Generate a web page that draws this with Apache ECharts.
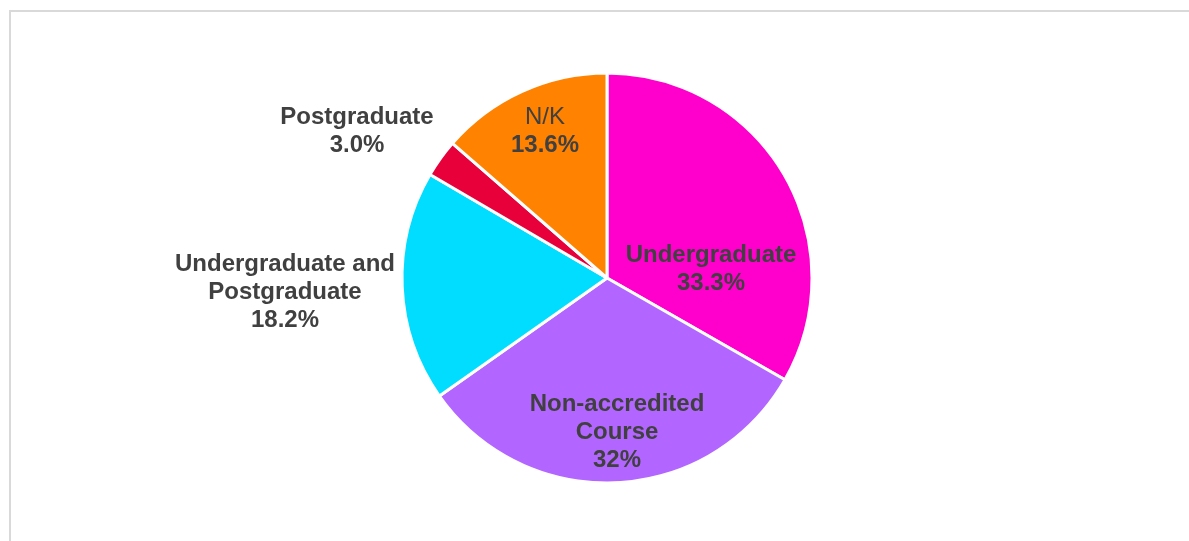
<!DOCTYPE html>
<html>
<head>
<meta charset="utf-8">
<script src="https://cdn.jsdelivr.net/npm/echarts@6/dist/echarts.min.js"></script>
<style>
html,body{margin:0;padding:0;background:#fff;}
#frame{position:absolute;left:9px;top:10px;width:1200px;height:600px;border-left:2px solid #D9D9D9;border-top:2px solid #D9D9D9;box-sizing:border-box;}
#chart{position:absolute;left:0;top:0;width:1189px;height:541px;}
</style>
</head>
<body>
<div id="frame"></div>
<div id="chart"></div>
<script>
// Data
const categories = ['Undergraduate', 'Non-accredited Course', 'Undergraduate and Postgraduate', 'Postgraduate', 'N/K'];
const labelNames = ['Undergraduate', 'Non-accredited\nCourse', 'Undergraduate and\nPostgraduate', 'Postgraduate', 'N/K'];
const values = [33.3, 32, 18.2, 3.0, 13.6];
const valueLabels = ['33.3%', '32%', '18.2%', '3.0%', '13.6%'];
const colors = ['#FF00CC', '#B266FF', '#00DDFF', '#E8003A', '#FF8200'];
const nameBold = [true, true, true, true, false];
// label anchor positions (px)
const labelPos = [[711, 269], [617, 432], [285, 292], [357, 131], [545, 131]];

const FONT = "'Liberation Sans', Arial, sans-serif";
const chart = echarts.init(document.getElementById('chart'));
const data = categories.map((c, i) => ({
  name: c,
  value: values[i],
  itemStyle: { color: colors[i] },
  label: {
    formatter: (nameBold[i] ? '{b|' + labelNames[i].split('\n').join('}\n{b|') + '}' : '{n|' + labelNames[i] + '}') + '\n{b|' + valueLabels[i] + '}'
  }
}));

chart.setOption({
  animation: false,
  series: [{
    type: 'pie',
    center: [607, 278],
    radius: 205,
    startAngle: 90,
    clockwise: true,
    data: data,
    itemStyle: { borderColor: '#fff', borderWidth: 3 },
    label: {
      show: true,
      position: 'inside',
      color: '#404040',
      fontFamily: FONT,
      align: 'center',
      rich: {
        b: { fontWeight: 'bold', fontSize: 24, lineHeight: 28, color: '#404040', fontFamily: FONT },
        n: { fontWeight: 'normal', fontSize: 24, lineHeight: 28, color: '#404040', fontFamily: FONT }
      }
    },
    labelLine: { show: false },
    labelLayout: function (p) {
      const pos = labelPos[p.dataIndex];
      return { x: pos[0], y: pos[1], align: 'center', verticalAlign: 'middle' };
    },
    emphasis: { disabled: true }
  }]
});
</script>
</body>
</html>
